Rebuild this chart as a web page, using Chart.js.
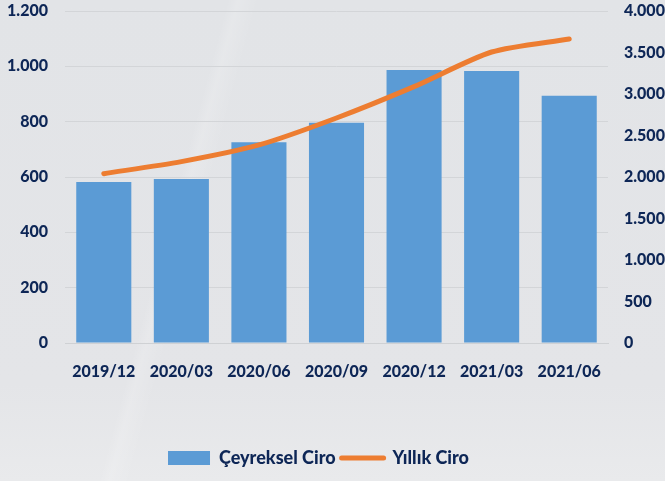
<!DOCTYPE html>
<html>
<head>
<meta charset="utf-8">
<script src="https://cdn.jsdelivr.net/npm/chart.js@4.4.1/dist/chart.umd.min.js"></script>
<style>
  html, body { margin: 0; padding: 0; }
  body {
    width: 665px; height: 481px; overflow: hidden;
    background:
      linear-gradient(105deg, rgba(255,255,255,0) 0px, rgba(255,255,255,0) 220px, rgba(255,255,255,0.15) 230px, rgba(255,255,255,0) 250px, rgba(255,255,255,0) 100%),
      linear-gradient(180deg, #e2e4e7 0%, #e4e5e8 80%, #e9eaec 100%);
  }
  canvas { display: block; }
</style>
</head>
<body>
<canvas id="chart" width="665" height="481"></canvas>
<script>
var periods = ['2019/12', '2020/03', '2020/06', '2020/09', '2020/12', '2021/03', '2021/06'];
var quarterly = [582, 593, 726, 796, 987, 983, 894];
var annual = [2040, 2185, 2386, 2711, 3089, 3506, 3663];

var navy = '#0d2656';
var tickFont = { family: 'Lato', size: 16, weight: '900' };

function fmt(v) {
  return String(v).replace(/\B(?=(\d{3})+(?!\d))/g, '.');
}

// y axes: drop the tick padding that chart.js adds above/below the plot
function fixY(width) {
  return function(s) {
    s.width = width;
    s.paddingTop = 0;
    s.paddingBottom = 0;
  };
}

var shiftLegend = {
  id: 'shiftLegend',
  afterLayout: function(c) {
    c.legend.left -= 14;
    c.legend.right -= 14;
  }
};

var ctx = document.getElementById('chart').getContext('2d');
var chart = new Chart(ctx, {
  type: 'bar',
  data: {
    labels: periods,
    datasets: [{
      label: 'Çeyreksel Ciro',
      data: quarterly,
      backgroundColor: '#5b9bd5',
      borderWidth: 0,
      barPercentage: 0.71,
      categoryPercentage: 1,
      yAxisID: 'y',
      order: 1
    }, {
      type: 'line',
      label: 'Yıllık Ciro',
      data: annual,
      borderColor: '#ed7d31',
      backgroundColor: '#ed7d31',
      borderWidth: 5,
      borderCapStyle: 'round',
      pointRadius: 0,
      tension: 0.25,
      yAxisID: 'y1',
      order: 0
    }]
  },
  plugins: [shiftLegend],
  options: {
    responsive: false,
    animation: false,
    layout: { padding: { top: 11, bottom: 4, left: 0, right: 0 } },
    plugins: {
      tooltip: { enabled: false },
      legend: {
        position: 'bottom',
        labels: {
          color: navy,
          font: { family: 'Lato', size: 18, weight: '900' },
          boxWidth: 42,
          boxHeight: 14,
          padding: 6,
          usePointStyle: true,
          pointStyleWidth: 42,
          sort: function(a, b) { return a.datasetIndex - b.datasetIndex; },
          generateLabels: function(c) {
            var items = Chart.defaults.plugins.legend.labels.generateLabels(c);
            items.forEach(function(it) {
              if (it.datasetIndex === 0) {
                it.pointStyle = 'rect';
                it.lineWidth = 0;
              } else {
                it.pointStyle = 'line';
                it.lineWidth = 5;
                it.strokeStyle = '#ed7d31';
                it.lineCap = 'round';
              }
            });
            return items;
          }
        }
      }
    },
    scales: {
      x: {
        grid: { display: false },
        border: { display: true, color: '#cfd1d4', width: 1 },
        ticks: { color: navy, font: tickFont, padding: 11, maxRotation: 0 },
        afterFit: function(s) { s.height = 100; }
      },
      y: {
        position: 'left',
        min: 0, max: 1200,
        grid: { color: '#d3d5d8', lineWidth: 1, drawTicks: false },
        border: { display: false },
        ticks: { stepSize: 200, color: navy, font: tickFont, padding: 17, callback: function(v) { return fmt(v); } },
        afterFit: fixY(65)
      },
      y1: {
        position: 'right',
        min: 0, max: 4000,
        grid: { display: false, drawTicks: false },
        border: { display: false },
        ticks: { stepSize: 500, color: navy, font: tickFont, padding: 16, callback: function(v) { return fmt(v); } },
        afterFit: fixY(57)
      }
    }
  }
});
</script>
</body>
</html>
